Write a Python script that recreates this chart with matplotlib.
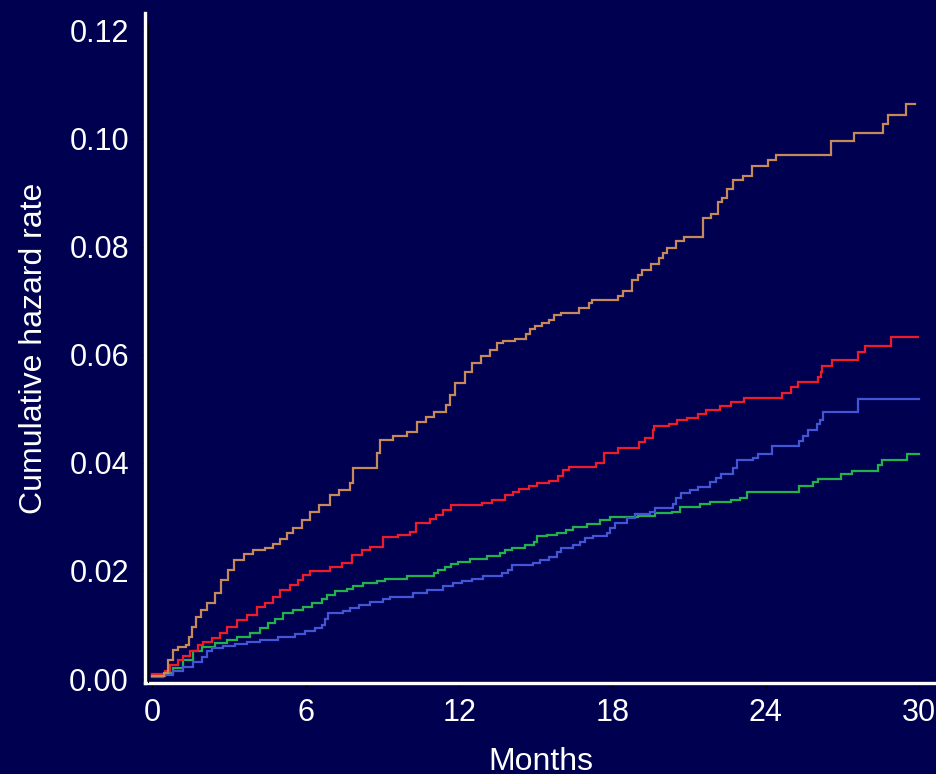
import matplotlib
matplotlib.use("Agg")
import matplotlib.pyplot as plt
from matplotlib.lines import Line2D

plt.rcParams['font.family'] = ['Liberation Sans', 'DejaVu Sans']

# ---- data (months, cumulative hazard) ----
end_time = [29.85, 29.95, 29.98, 30.0]

tan_t = [0, 0.45, 0.6, 0.8, 1.0, 1.3, 1.45, 1.55, 1.7, 1.9, 2.15, 2.45, 2.7, 2.95, 3.2, 3.6,
         3.95, 4.4, 4.73, 5.0, 5.25, 5.51, 5.85, 6.16, 6.5, 6.95, 7.3, 7.73, 7.86, 8.77, 8.9,
         9.4, 9.95, 10.34, 10.7, 11.0, 11.5, 11.65, 11.84, 12.23, 12.5, 12.85, 13.2, 13.47,
         13.73, 14.2, 14.6, 14.77, 14.97, 15.23, 15.5, 15.7, 15.98, 16.7, 17.1, 17.2, 18.23,
         18.43, 18.77, 19.0, 19.17, 19.5, 19.82, 19.97, 20.15, 20.5, 20.8, 21.53, 21.85,
         22.15, 22.28, 22.47, 22.7, 23.1, 23.45, 24.1, 24.4, 26.55, 27.45, 28.6, 28.8, 29.5]
tan_v = [0.0005, 0.0011, 0.0035, 0.0054, 0.0059, 0.0063, 0.0078, 0.0097, 0.0115, 0.0128,
         0.0140, 0.0159, 0.0183, 0.0202, 0.0220, 0.0232, 0.0239, 0.0242, 0.0250, 0.0260,
         0.0270, 0.0279, 0.0295, 0.0310, 0.0322, 0.0340, 0.0350, 0.0362, 0.0390, 0.0418,
         0.0443, 0.0450, 0.0458, 0.0476, 0.0485, 0.0495, 0.0507, 0.0525, 0.0548, 0.0569,
         0.0585, 0.0598, 0.0609, 0.0622, 0.0625, 0.0630, 0.0638, 0.0648, 0.0654, 0.0659,
         0.0665, 0.0673, 0.0677, 0.0687, 0.0696, 0.0702, 0.0709, 0.0719, 0.0739, 0.0748,
         0.0757, 0.0769, 0.0779, 0.0788, 0.0798, 0.0810, 0.0819, 0.0853, 0.0860, 0.0884,
         0.0890, 0.0908, 0.0923, 0.0931, 0.0949, 0.0960, 0.0970, 0.0996, 0.1010, 0.1027,
         0.1044, 0.1065]

red_t = [0, 0.5, 0.7, 1.0, 1.2, 1.47, 1.79, 1.99, 2.32, 2.64, 2.9, 3.3, 3.69, 4.08, 4.4,
         4.73, 4.99, 5.38, 5.71, 5.9, 6.16, 6.95, 7.4, 7.8, 8.2, 8.5, 9.03, 9.6, 10.08, 10.3,
         10.86, 11.1, 11.38, 11.7, 12.9, 13.3, 13.8, 14.12, 14.36, 14.75, 15.06, 15.53,
         15.88, 16.05, 16.31, 17.36, 17.67, 18.2, 19.05, 19.28, 19.6, 19.64, 20.2, 20.54,
         20.9, 21.34, 21.65, 22.2, 22.64, 23.15, 24.65, 24.98, 25.25, 26.06, 26.15, 26.2,
         26.6, 27.6, 27.9, 28.9]
red_v = [0.0010, 0.0015, 0.0025, 0.0035, 0.0043, 0.0051, 0.0063, 0.0069, 0.0075, 0.0085,
         0.0097, 0.0109, 0.0119, 0.0134, 0.0140, 0.0152, 0.0165, 0.0174, 0.0183, 0.0193,
         0.0200, 0.0208, 0.0215, 0.0230, 0.0238, 0.0245, 0.0262, 0.0266, 0.0273, 0.0288,
         0.0296, 0.0304, 0.0313, 0.0322, 0.0325, 0.0331, 0.0341, 0.0347, 0.0351, 0.0357,
         0.0362, 0.0367, 0.0375, 0.0387, 0.0393, 0.0399, 0.0418, 0.0427, 0.0439, 0.0447,
         0.0461, 0.0469, 0.0473, 0.0480, 0.0484, 0.0491, 0.0498, 0.0505, 0.0513, 0.0520,
         0.0530, 0.0540, 0.0549, 0.0559, 0.0569, 0.0580, 0.0591, 0.0605, 0.0617, 0.0633]

green_t = [0, 0.49, 0.81, 1.2, 1.6, 1.93, 2.45, 2.9, 3.3, 3.82, 4.21, 4.53, 4.8, 5.12, 5.51,
           5.9, 6.23, 6.62, 6.82, 7.14, 7.6, 7.86, 8.25, 8.77, 9.1, 9.95, 11.0, 11.19, 11.45,
           11.7, 11.97, 12.43, 13.08, 13.6, 13.8, 14.06, 14.58, 14.94, 15.04, 15.43, 15.82,
           16.17, 16.47, 17.0, 17.5, 17.9, 19.0, 19.67, 20.32, 20.65, 21.43, 21.82, 22.64,
           23.0, 23.26, 25.3, 25.86, 26.06, 26.94, 27.37, 28.4, 28.54, 29.54]
green_v = [0.0005, 0.0011, 0.0020, 0.0035, 0.0051, 0.0059, 0.0066, 0.0072, 0.0078, 0.0085,
           0.0094, 0.0103, 0.0112, 0.0122, 0.0128, 0.0134, 0.0141, 0.0148, 0.0156, 0.0162,
           0.0166, 0.0172, 0.0177, 0.0182, 0.0186, 0.0191, 0.0196, 0.0202, 0.0208, 0.0212,
           0.0217, 0.0222, 0.0227, 0.0233, 0.0239, 0.0243, 0.0248, 0.0254, 0.0264, 0.0267,
           0.0270, 0.0275, 0.0282, 0.0287, 0.0294, 0.0299, 0.0302, 0.0307, 0.0310, 0.0319,
           0.0324, 0.0328, 0.0331, 0.0335, 0.0347, 0.0357, 0.0364, 0.0370, 0.0379, 0.0386,
           0.0396, 0.0406, 0.0416]

blue_t = [0, 0.42, 0.81, 1.2, 1.6, 1.93, 2.12, 2.32, 2.77, 3.23, 3.69, 4.21, 4.92, 5.58,
          5.97, 6.36, 6.62, 6.75, 6.88, 7.47, 7.73, 8.1, 8.5, 9.03, 9.3, 10.2, 10.73, 11.38,
          11.77, 12.1, 12.49, 12.95, 13.67, 13.93, 14.06, 14.9, 15.17, 15.5, 15.82, 16.0,
          16.47, 16.73, 16.93, 17.25, 17.78, 17.9, 18.1, 18.56, 18.9, 19.47, 19.67, 20.38,
          20.5, 20.7, 21.04, 21.36, 21.82, 22.04, 22.24, 22.73, 22.87, 23.5, 23.69, 24.23,
          25.3, 25.47, 25.67, 26.02, 26.13, 26.25, 27.6]
blue_v = [0.0003, 0.0007, 0.0014, 0.0023, 0.0032, 0.0041, 0.0051, 0.0057, 0.0061, 0.0065,
          0.0069, 0.0072, 0.0077, 0.0083, 0.0088, 0.0094, 0.0100, 0.0112, 0.0122, 0.0126,
          0.0131, 0.0137, 0.0143, 0.0148, 0.0152, 0.0159, 0.0165, 0.0172, 0.0177, 0.0182,
          0.0186, 0.0191, 0.0196, 0.0202, 0.0211, 0.0215, 0.0220, 0.0226, 0.0236, 0.0243,
          0.0248, 0.0254, 0.0261, 0.0265, 0.0270, 0.0279, 0.0289, 0.0298, 0.0305, 0.0310,
          0.0316, 0.0324, 0.0335, 0.0344, 0.0350, 0.0356, 0.0365, 0.0372, 0.0379, 0.0390,
          0.0406, 0.0410, 0.0417, 0.0432, 0.0441, 0.0450, 0.0461, 0.0472, 0.0480, 0.0495,
          0.0519]

x_ticks = [0, 6, 12, 18, 24, 30]
y_ticks = [0.00, 0.02, 0.04, 0.06, 0.08, 0.10, 0.12]
y_tick_labels = ["0.00", "0.02", "0.04", "0.06", "0.08", "0.10", "0.12"]

series = [
    (green_t, green_v, end_time[3], "#22B24C"),
    (blue_t, blue_v, end_time[2], "#4455D4"),
    (red_t, red_v, end_time[1], "#EE1C2B"),
    (tan_t, tan_v, end_time[0], "#C68A5A"),
]

BG = "#000050"
fig = plt.figure(figsize=(9.37, 7.74), dpi=100, facecolor=BG)
ax = fig.add_axes([145 / 937, 1 - 683 / 774, 1 - 145 / 937, (683 - 13) / 774])
ax.set_facecolor(BG)

for t, v, te, c in series:
    ax.step(list(t) + [te], list(v) + [v[-1]], where="post", color=c, lw=1.6,
            solid_joinstyle="miter")

ax.set_xlim(-0.29, 30.7)
ax.set_ylim(-0.00074, 0.1233)
ax.set_xticks(x_ticks)
ax.set_yticks(y_ticks)
ax.set_yticklabels(y_tick_labels)

for s in ["top", "right"]:
    ax.spines[s].set_visible(False)
for s in ["left", "bottom"]:
    ax.spines[s].set_color("white")
    ax.spines[s].set_linewidth(2.4)
    ax.spines[s].set_zorder(5)

ax.tick_params(axis="both", colors="black", labelcolor="white", length=3.6, width=1.0,
               labelsize=22)
ax.tick_params(axis="x", pad=7)
ax.tick_params(axis="y", pad=8)

ax.set_xlabel("Months", color="white", fontsize=23)
ax.set_ylabel("Cumulative hazard rate", color="white", fontsize=23)
ax.xaxis.set_label_coords(0.5, -0.0955)
ax.yaxis.set_label_coords(-0.1218, 0.5)

# thin dark border line just inside the left axis line
fig.add_artist(Line2D([148.5 / 937, 148.5 / 937], [1 - 23 / 774, 1 - 682 / 774],
                      color="black", lw=0.8, transform=fig.transFigure))

fig.savefig("out.png", dpi=100, facecolor=BG)
